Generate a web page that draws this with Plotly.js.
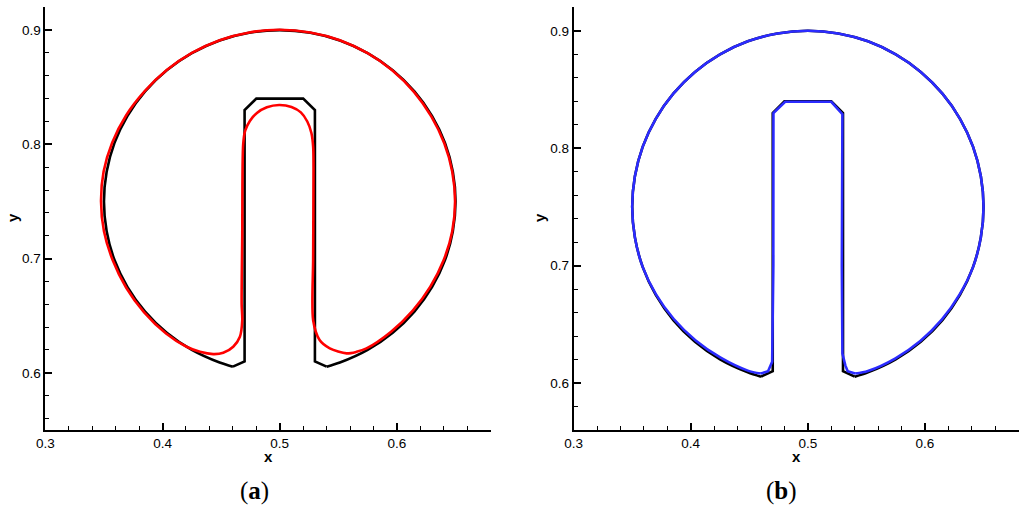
<!DOCTYPE html>
<html>
<head>
<meta charset="utf-8">
<script src="https://cdn.plot.ly/plotly-3.0.1.min.js"></script>
<style>
  body { margin: 0; background: #fff; }
  #chart { width: 1024px; height: 510px; }
</style>
</head>
<body>
<div id="chart"></div>
<script>
// exact disk outline: the round part, then the slot (contoured on the grid)
const exactArcX = [0.46, 0.4487, 0.425, 0.4036, 0.3851, 0.3701, 0.359, 0.3523, 0.35, 0.3523, 0.359, 0.3701, 0.3851, 0.4036, 0.425, 0.4487, 0.474, 0.5,
  0.526, 0.5513, 0.575, 0.5964, 0.6149, 0.6299, 0.641, 0.6477, 0.65, 0.6477, 0.641, 0.6299, 0.6149, 0.5964, 0.575, 0.5513, 0.54];
const exactArcY = [0.6054, 0.609, 0.6201, 0.6351, 0.6536, 0.675, 0.6987, 0.724, 0.75, 0.776, 0.8013, 0.825, 0.8464, 0.8649, 0.8799, 0.891, 0.8977, 0.9,
  0.8977, 0.891, 0.8799, 0.8649, 0.8464, 0.825, 0.8013, 0.776, 0.75, 0.724, 0.6987, 0.675, 0.6536, 0.6351, 0.6201, 0.609, 0.6054];
const exactSlotX = [0.54, 0.53, 0.53, 0.52, 0.48, 0.47, 0.47, 0.46];
const exactSlotY = [0.6054, 0.61, 0.83, 0.84, 0.84, 0.83, 0.61, 0.6054];

// panel (a) result
const redX = [0.468, 0.466, 0.4603, 0.4518, 0.4432, 0.4319, 0.4205, 0.403, 0.3843, 0.369, 0.3575, 0.35, 0.3475, 0.3497, 0.357, 0.369, 0.3848, 0.4036, 0.425, 0.4487, 0.474, 0.5,
  0.526, 0.5513, 0.575, 0.5962, 0.6145, 0.6293, 0.6404, 0.6472, 0.6496, 0.6472, 0.64, 0.6285, 0.6135, 0.595, 0.574,
  0.5655, 0.557, 0.5427, 0.534, 0.5285, 0.5285, 0.5288, 0.5285, 0.527, 0.5235, 0.518, 0.51, 0.4995, 0.489, 0.4805, 0.4745, 0.4705, 0.4688, 0.468, 0.4675, 0.468];
const redY = [0.646, 0.6316, 0.6228, 0.6175, 0.6164, 0.6184, 0.6228, 0.6345, 0.653, 0.6745, 0.6985, 0.724, 0.75, 0.7762, 0.8015, 0.8255, 0.8466, 0.865, 0.88, 0.8912, 0.898, 0.9003,
  0.898, 0.8912, 0.8798, 0.8647, 0.846, 0.8245, 0.801, 0.776, 0.75, 0.724, 0.699, 0.6755, 0.6545, 0.636, 0.6214,
  0.6184, 0.617, 0.6214, 0.6287, 0.646, 0.7, 0.78, 0.798, 0.81, 0.82, 0.828, 0.8328, 0.8345, 0.8325, 0.8275, 0.8205, 0.812, 0.8, 0.72, 0.66, 0.646];

// panel (b) result: round part, then the slot
const blueArcX = [0.4598, 0.4487, 0.4255, 0.4042, 0.3855, 0.3703, 0.359, 0.3523, 0.35, 0.3523, 0.359, 0.3701, 0.3851, 0.4036, 0.425, 0.4487, 0.474, 0.5,
  0.526, 0.5513, 0.575, 0.5964, 0.6149, 0.6299, 0.641, 0.6477, 0.65, 0.6477, 0.641, 0.6296, 0.6145, 0.596, 0.5748, 0.5513, 0.5404];
const blueArcY = [0.608, 0.6105, 0.6215, 0.6362, 0.6545, 0.6755, 0.6987, 0.724, 0.75, 0.776, 0.8013, 0.825, 0.8464, 0.8649, 0.8799, 0.891, 0.8977, 0.9,
  0.8977, 0.891, 0.8799, 0.8649, 0.8464, 0.825, 0.8013, 0.776, 0.75, 0.724, 0.6987, 0.6755, 0.6542, 0.6358, 0.621, 0.6102, 0.608];
const blueSlotX = [0.5404, 0.534, 0.532, 0.5295, 0.529, 0.5295, 0.52, 0.4806, 0.4706, 0.4705, 0.4695, 0.466, 0.4598];
const blueSlotY = [0.608, 0.61, 0.615, 0.625, 0.7, 0.829, 0.8395, 0.8395, 0.83, 0.7, 0.618, 0.61, 0.608];

const xTicks = [0.3, 0.4, 0.5, 0.6];
const yTicks = [0.6, 0.7, 0.8, 0.9];

const tickFont = { family: 'Liberation Sans, Arial, sans-serif', size: 13.5, color: '#000' };

function axis(range, ticks, domain, anchor) {
  return {
    domain: domain, anchor: anchor, range: range,
    tickmode: 'array', tickvals: ticks, ticktext: ticks.map(v => v.toFixed(1)),
    ticks: 'inside', ticklen: 7, tickwidth: 2, tickcolor: '#000',
    minor: { ticks: 'inside', dtick: 0.02, tick0: 0.3, ticklen: 4, tickwidth: 1, tickcolor: '#000' },
    showline: true, linecolor: '#000', linewidth: 2, mirror: false,
    showgrid: false, zeroline: false, tickfont: tickFont, fixedrange: true
  };
}

const blackLine = { color: '#000', width: 2.6 };
const blackArc = { color: '#000', width: 2.6, shape: 'spline', smoothing: 0.8 };

const traces = [
  { x: exactArcX, y: exactArcY, xaxis: 'x', yaxis: 'y', mode: 'lines', line: blackArc },
  { x: exactSlotX, y: exactSlotY, xaxis: 'x', yaxis: 'y', mode: 'lines', line: blackLine },
  { x: redX, y: redY, xaxis: 'x', yaxis: 'y', mode: 'lines', line: { color: '#ff0000', width: 2.6, shape: 'spline', smoothing: 0.8 } },
  { x: exactArcX, y: exactArcY, xaxis: 'x2', yaxis: 'y2', mode: 'lines', line: blackArc },
  { x: exactSlotX, y: exactSlotY, xaxis: 'x2', yaxis: 'y2', mode: 'lines', line: blackLine },
  { x: blueArcX, y: blueArcY, xaxis: 'x2', yaxis: 'y2', mode: 'lines', line: { color: '#2b2bff', width: 2.6, shape: 'spline', smoothing: 0.8 } },
  { x: blueSlotX, y: blueSlotY, xaxis: 'x2', yaxis: 'y2', mode: 'lines', line: { color: '#2b2bff', width: 2.6 } }
];

const labelFont = { family: 'Liberation Sans, Arial, sans-serif', size: 15, color: '#000' };
const capFont = { family: 'Liberation Serif, Times New Roman, serif', size: 25, color: '#000' };

const layout = {
  width: 1024, height: 510,
  margin: { l: 0, r: 0, t: 0, b: 0 },
  paper_bgcolor: '#fff', plot_bgcolor: '#fff',
  showlegend: false,
  xaxis: axis([0.3, 0.68], xTicks, [0.0443, 0.4792], 'y'),
  yaxis: axis([0.55, 0.92], yTicks, [0.157, 0.9857], 'x'),
  xaxis2: axis([0.3, 0.68], xTicks, [0.5602, 0.9948], 'y2'),
  yaxis2: axis([0.56, 0.92], yTicks, [0.157, 0.9857], 'x2'),
  annotations: [
    { text: '<b>x</b>', x: 268 / 1024, y: 1 - 456 / 510, xref: 'paper', yref: 'paper', showarrow: false, font: labelFont, xanchor: 'center', yanchor: 'middle' },
    { text: '<b>y</b>', x: 12 / 1024, y: 1 - 218 / 510, xref: 'paper', yref: 'paper', showarrow: false, font: labelFont, textangle: -90, xanchor: 'center', yanchor: 'middle' },
    { text: '<b>x</b>', x: 796 / 1024, y: 1 - 456 / 510, xref: 'paper', yref: 'paper', showarrow: false, font: labelFont, xanchor: 'center', yanchor: 'middle' },
    { text: '<b>y</b>', x: 539 / 1024, y: 1 - 218 / 510, xref: 'paper', yref: 'paper', showarrow: false, font: labelFont, textangle: -90, xanchor: 'center', yanchor: 'middle' },
    { text: '(<b>a</b>)', x: 254 / 1024, y: 1 - 491 / 510, xref: 'paper', yref: 'paper', showarrow: false, font: capFont, xanchor: 'center', yanchor: 'middle' },
    { text: '(<b>b</b>)', x: 781 / 1024, y: 1 - 491 / 510, xref: 'paper', yref: 'paper', showarrow: false, font: capFont, xanchor: 'center', yanchor: 'middle' }
  ]
};

Plotly.newPlot('chart', traces, layout, { displayModeBar: false, staticPlot: true });
</script>
</body>
</html>
